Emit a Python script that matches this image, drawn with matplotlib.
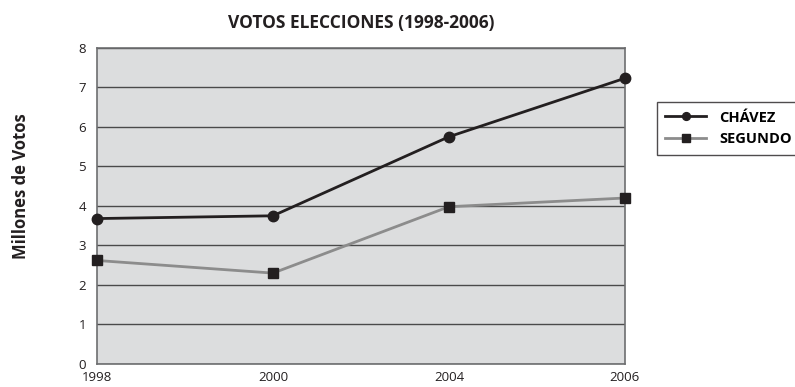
import matplotlib.pyplot as plt

years = ["1998", "2000", "2004", "2006"]
chavez = [3.68, 3.75, 5.75, 7.23]
segundo = [2.62, 2.30, 3.98, 4.20]
yticks = [0, 1, 2, 3, 4, 5, 6, 7, 8]

plt.rcParams['font.family'] = ['Open Sans', 'DejaVu Sans']

fig = plt.figure(figsize=(7.95, 3.87), dpi=100)
ax = fig.add_axes([0.122, 0.0594, 0.664, 0.817])
ax.set_facecolor('#dcddde')

x = range(len(years))
ax.plot(x, chavez, color='#231f20', lw=2, marker='o', markersize=7.5,
        label='CHÁVEZ', clip_on=False, zorder=4)
ax.plot(x, segundo, color='#8c8c8c', lw=2, marker='s', markersize=7.5,
        markerfacecolor='#231f20', markeredgecolor='#231f20',
        label='SEGUNDO', clip_on=False, zorder=3)

ax.set_xlim(0, len(years) - 1)
ax.set_ylim(0, 8)
ax.set_xticks(list(x))
ax.set_xticklabels(years)
ax.set_yticks(yticks)
ax.tick_params(length=0, labelsize=9.5, colors='#231f20')
ax.tick_params(axis='x', pad=5)
ax.tick_params(axis='y', pad=8)
ax.grid(axis='y', color='#4a4a4a', lw=1)
ax.set_axisbelow(True)
for s in ax.spines.values():
    s.set_color('#6d6e70')
    s.set_linewidth(1.2)

ax.set_title('VOTOS ELECCIONES (1998-2006)', fontsize=12.5, fontweight='bold',
             color='#231f20', pad=14)
fig.text(0.026, 0.52, 'Millones de Votos', rotation=90, fontsize=12,
         fontweight='bold', color='#231f20', ha='center', va='center')

leg = fig.legend(loc='upper left', bbox_to_anchor=(0.826, 0.737),
                 frameon=True, fancybox=False, edgecolor='#231f20',
                 handlelength=2.8, borderpad=0.6, markerscale=0.75,
                 labelspacing=0.5, handletextpad=0.9, borderaxespad=0,
                 prop={'weight': 'bold', 'size': 10.5})
leg.get_frame().set_linewidth(1)

fig.savefig('out.png', dpi=100)
